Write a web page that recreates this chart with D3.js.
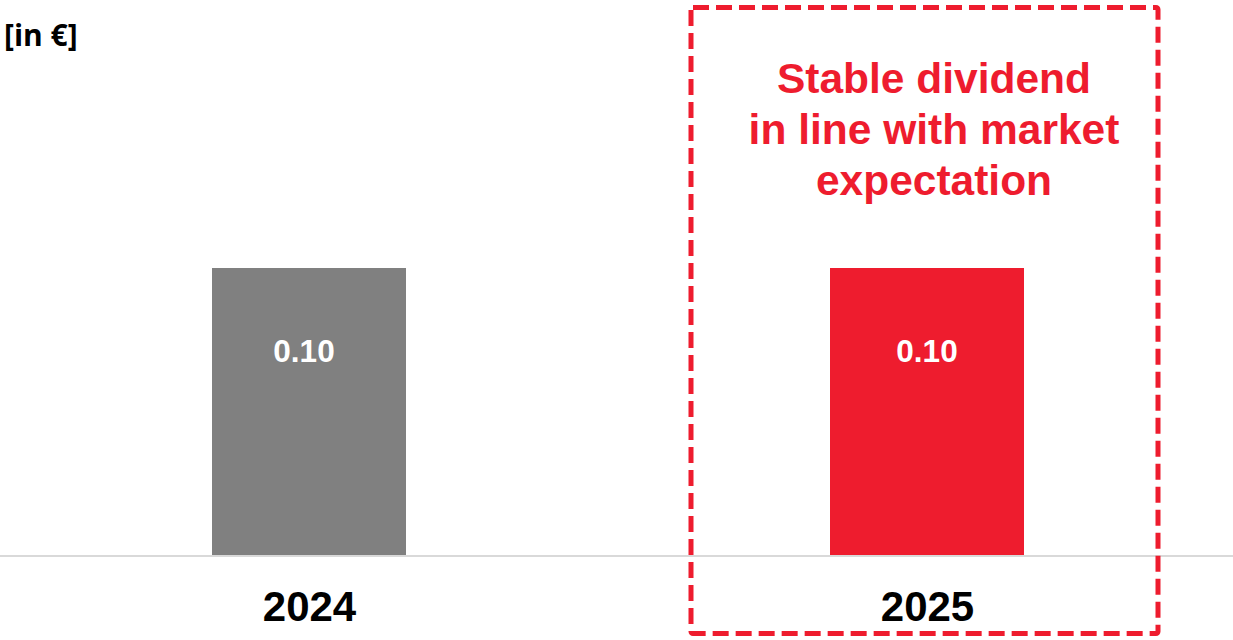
<!DOCTYPE html>
<html><head><meta charset="utf-8">
<script src="https://cdn.jsdelivr.net/npm/d3@7"></script>
<style>html,body{margin:0;padding:0;background:#fff;overflow:hidden}</style>
</head><body>
<svg id="c" width="1233" height="640"></svg>
<script>
const categories = ["2024", "2025"];
const values = [0.10, 0.10];
const valueLabels = ["0.10", "0.10"];
const barColors = ["#808080", "#EE1C2E"];
const unitLabel = "[in €]";
const annotationLines = ["Stable dividend", "in line with market", "expectation"];

const W = 1233, H = 640;
const svg = d3.select("#c");
const x = d3.scalePoint().domain(categories).range([0, 1236]).padding(0.5);
const y = d3.scaleLinear().domain([0, 0.1]).range([555, 268]);
const barW = 194;
const red = "#EE1C2E";

// bars
svg.selectAll("rect.bar").data(categories).join("rect")
  .attr("class", "bar")
  .attr("x", d => x(d) - barW / 2)
  .attr("y", (d, i) => y(values[i]))
  .attr("width", barW)
  .attr("height", (d, i) => y(0) - y(values[i]))
  .attr("fill", (d, i) => barColors[i]);

// axis line
svg.append("line").attr("x1", 0).attr("x2", W).attr("y1", y(0) + 1).attr("y2", y(0) + 1)
  .attr("stroke", "#d9d9d9").attr("stroke-width", 2);

// value labels
svg.selectAll("text.val").data(categories).join("text")
  .attr("class", "val")
  .attr("x", (d, i) => x(d) - (i === 0 ? 5 : 0))
  .attr("y", 362)
  .attr("text-anchor", "middle")
  .attr("font-family", "Liberation Sans, Arial, sans-serif")
  .attr("font-weight", "bold")
  .attr("font-size", 31.5)
  .attr("fill", "#fff")
  .text((d, i) => valueLabels[i]);

// category labels
const xAxis = d3.axisBottom(x).tickSize(0).tickPadding(0);
const gx = svg.append("g").attr("transform", `translate(0,${621})`).call(xAxis);
gx.select(".domain").remove();
gx.selectAll("text")
  .attr("dy", 0).attr("y", 0)
  .attr("font-family", "Liberation Sans, Arial, sans-serif")
  .attr("font-weight", "bold")
  .attr("font-size", 42)
  .attr("fill", "#000");

// unit label
svg.append("text").attr("x", 4).attr("y", 46)
  .attr("font-family", "Open Sans, sans-serif")
  .attr("font-weight", "bold").attr("font-size", 30).attr("fill", "#000")
  .text(unitLabel);

// dashed highlight box
const cx = x("2025");
svg.append("rect")
  .attr("x", cx - 236).attr("y", 7.5)
  .attr("width", 467).attr("height", 626)
  .attr("rx", 2)
  .attr("fill", "none")
  .attr("stroke", red)
  .attr("stroke-width", 5)
  .attr("stroke-dasharray", "16 7");

// annotation
svg.append("g").selectAll("text").data(annotationLines).join("text")
  .attr("x", cx + 7)
  .attr("y", (d, i) => 93 + i * 51)
  .attr("text-anchor", "middle")
  .attr("font-family", "Liberation Sans, Arial, sans-serif")
  .attr("font-weight", "bold")
  .attr("font-size", 42.5)
  .attr("fill", red)
  .text(d => d);
</script>
</body></html>
